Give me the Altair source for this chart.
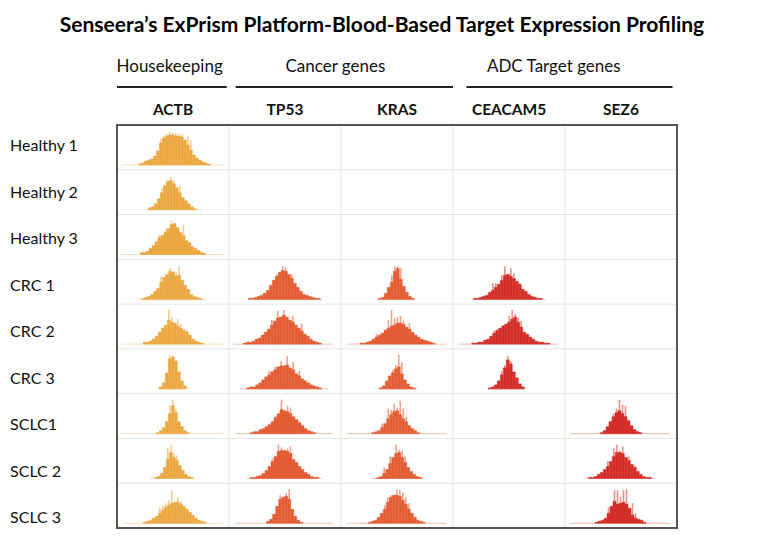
import altair as alt
import pandas as pd

# ---------------- data ----------------
samples = ["Healthy 1", "Healthy 2", "Healthy 3", "CRC 1", "CRC 2", "CRC 3",
           "SCLC1", "SCLC 2", "SCLC 3"]
genes = ["ACTB", "TP53", "KRAS", "CEACAM5", "SEZ6"]
groups = ["Housekeeping", "Cancer genes", "ADC Target genes"]
gene_group = [0, 1, 1, 2, 2]

# histogram counts (3-unit bins) for each (sample, gene); expression axis 0-112 per cell
actb_h1 = [1, 2, 4, 5, 6, 9, 14, 22, 27, 29, 30, 30, 29, 29, 28, 25, 20, 15, 10, 7, 5, 3, 2, 1]
actb_h2 = [2, 3, 6, 11, 17, 24, 28, 29, 26, 22, 17, 12, 9, 6, 3, 1]
actb_h3 = [2, 2, 3, 6, 9, 13, 17, 19, 22, 26, 30, 31, 27, 22, 19, 14, 12, 8, 6, 4, 2, 1]
actb_c1 = [1, 2, 3, 5, 8, 11, 17, 22, 25, 28, 27, 23, 24, 19, 14, 10, 5, 3, 2, 1]
actb_c2 = [2, 2, 3, 5, 8, 12, 16, 19, 24, 22, 21, 18, 16, 14, 12, 9, 5, 3, 2, 1]
actb_c3 = [2, 6, 16, 30, 32, 28, 17, 8, 3]
actb_s1 = [1, 3, 6, 12, 20, 28, 21, 12, 7, 3, 1]
actb_s2 = [1, 2, 5, 11, 19, 26, 21, 18, 13, 8, 4, 2, 1]
actb_s3 = [1, 2, 3, 5, 7, 10, 13, 16, 18, 20, 21, 21, 19, 17, 14, 11, 8, 5, 3, 2, 1]
tp53_c1 = [1, 1, 2, 3, 4, 6, 9, 14, 19, 23, 27, 29, 28, 25, 21, 16, 12, 8, 5, 4, 3, 2, 1, 1]
tp53_c2 = [1, 2, 2, 3, 5, 6, 9, 12, 15, 19, 23, 26, 27, 29, 27, 24, 22, 19, 16, 13, 10, 8, 5, 3, 2, 1]
tp53_c3 = [1, 2, 2, 4, 6, 9, 12, 14, 17, 19, 22, 23, 23, 24, 21, 19, 15, 13, 10, 8, 6, 4, 3, 2, 1]
tp53_s1 = [1, 2, 2, 4, 5, 7, 9, 12, 16, 20, 24, 23, 22, 20, 17, 14, 11, 8, 5, 3, 2, 1]
tp53_s2 = [1, 1, 2, 3, 5, 8, 12, 17, 22, 27, 28, 28, 27, 25, 19, 16, 12, 9, 6, 4, 2, 1, 1]
tp53_s3 = [2, 4, 9, 17, 24, 26, 27, 24, 14, 7, 3, 1]
kras_c1 = [1, 2, 6, 12, 17, 28, 31, 20, 13, 7, 3, 1]
kras_c2 = [1, 1, 2, 3, 5, 7, 9, 11, 14, 16, 18, 19, 21, 21, 20, 17, 15, 12, 9, 7, 5, 4, 3, 2, 1]
kras_c3 = [1, 3, 8, 13, 16, 20, 22, 15, 9, 5, 2, 1]
kras_s1 = [1, 2, 3, 6, 10, 15, 19, 22, 23, 19, 15, 12, 8, 5, 3, 1]
kras_s2 = [1, 2, 5, 9, 15, 21, 25, 26, 21, 16, 11, 7, 4, 2, 1]
kras_s3 = [1, 2, 3, 6, 10, 14, 21, 26, 28, 28, 27, 23, 19, 14, 10, 6, 3, 2, 1]
cea_c1 = [1, 1, 2, 3, 4, 7, 9, 12, 15, 19, 24, 25, 23, 21, 18, 15, 10, 8, 5, 3, 2, 1, 1]
cea_c2 = [1, 1, 2, 2, 4, 5, 8, 11, 14, 16, 18, 20, 22, 25, 27, 22, 17, 12, 10, 7, 5, 3, 2, 2, 1, 1]
cea_c3 = [1, 2, 4, 8, 14, 21, 29, 25, 17, 11, 5, 2]
sez6_s1 = [1, 3, 7, 12, 17, 21, 23, 20, 17, 13, 8, 4, 2, 1]
sez6_s2 = [1, 1, 2, 4, 6, 9, 12, 17, 22, 26, 26, 25, 21, 18, 14, 11, 7, 4, 2, 1, 1]
sez6_s3 = [1, 2, 3, 5, 10, 17, 22, 19, 20, 21, 19, 15, 8, 5, 4, 3, 1]

# sparse single-read spikes: {bin index: count}
spk = {
    ("Healthy 1", "ACTB"): {7: 26, 8: 29, 9: 31, 10: 33, 11: 32, 12: 32, 13: 31, 14: 31, 16: 29, 17: 25},
    ("Healthy 2", "ACTB"): {4: 22, 6: 30, 7: 33, 8: 30, 10: 25},
    ("Healthy 3", "ACTB"): {6: 20, 8: 25, 10: 34, 14: 30},
    ("CRC 1", "ACTB"): {6: 23, 9: 31, 10: 28, 11: 27, 12: 33},
    ("CRC 2", "ACTB"): {8: 34, 9: 27, 11: 25, 12: 20, 14: 14},
    ("CRC 3", "ACTB"): {3: 34, 4: 33},
    ("SCLC1", "ACTB"): {4: 28, 5: 34, 6: 25},
    ("SCLC 2", "ACTB"): {4: 30, 5: 34, 6: 25, 7: 23},
    ("SCLC 3", "ACTB"): {5: 16, 6: 18, 7: 20, 8: 23, 9: 33, 11: 26, 12: 22},
    ("CRC 1", "TP53"): {9: 25, 11: 33, 12: 32, 14: 25},
    ("CRC 2", "TP53"): {9: 24, 11: 33, 13: 34, 16: 28, 19: 20},
    ("CRC 3", "TP53"): {7: 18, 9: 22, 11: 28, 13: 33, 15: 27, 17: 18},
    ("SCLC1", "TP53"): {8: 18, 10: 34, 12: 28, 13: 26},
    ("SCLC 2", "TP53"): {7: 20, 9: 34, 10: 31, 12: 30, 13: 32},
    ("SCLC 3", "TP53"): {4: 28, 6: 30, 7: 34},
    ("CRC 1", "KRAS"): {4: 24, 5: 33, 6: 33, 7: 31},
    ("CRC 2", "KRAS"): {5: 10, 9: 24, 10: 34, 11: 26, 12: 27, 13: 28, 14: 24, 16: 21},
    ("CRC 3", "KRAS"): {4: 19, 5: 24, 6: 34, 7: 27},
    ("SCLC1", "KRAS"): {3: 10, 5: 25, 6: 24, 7: 30, 8: 26, 9: 33, 10: 25, 11: 17},
    ("SCLC 2", "KRAS"): {2: 11, 4: 22, 6: 34, 7: 29, 8: 28, 9: 22},
    ("SCLC 3", "KRAS"): {5: 18, 6: 26, 7: 28, 9: 34, 10: 33, 11: 31, 12: 26, 13: 20},
    ("CRC 1", "CEACAM5"): {6: 16, 7: 16, 9: 24, 10: 33, 12: 31, 13: 26, 15: 16},
    ("CRC 2", "CEACAM5"): {7: 13, 10: 19, 12: 28, 13: 34, 14: 30, 15: 26, 16: 23},
    ("CRC 3", "CEACAM5"): {4: 18, 5: 24, 6: 33, 7: 28},
    ("SCLC1", "SEZ6"): {4: 20, 5: 25, 6: 34, 7: 29, 8: 28},
    ("SCLC 2", "SEZ6"): {6: 17, 8: 30, 9: 34, 10: 28, 11: 32, 13: 22, 15: 13},
    ("SCLC 3", "SEZ6"): {4: 16, 6: 33, 7: 33, 8: 26, 9: 33, 10: 34, 12: 20, 13: 10},
}

# (sample, gene, counts, first-bin expression, range low, range high)
cells = [
    ("Healthy 1", "ACTB", actb_h1, 21.3, 4.7, 106.3),
    ("Healthy 2", "ACTB", actb_h2, 31.3, 26, 86),
    ("Healthy 3", "ACTB", actb_h3, 23, 4.7, 106.3),
    ("CRC 1", "ACTB", actb_c1, 24.7, 19.7, 89.7),
    ("CRC 2", "ACTB", actb_c2, 26.3, 4.7, 106.3),
    ("CRC 3", "ACTB", actb_c3, 42.3, 41, 71),
    ("SCLC1", "ACTB", actb_s1, 39.3, 6, 105),
    ("SCLC 2", "ACTB", actb_s2, 37.3, 33, 76),
    ("SCLC 3", "ACTB", actb_s3, 26.3, 6, 105),
    ("CRC 1", "TP53", tp53_c1, 19.3, 19, 93),
    ("CRC 2", "TP53", tp53_c2, 14.3, 4, 104),
    ("CRC 3", "TP53", tp53_c3, 17.7, 11, 99),
    ("SCLC1", "TP53", tp53_s1, 21, 6, 104),
    ("SCLC 2", "TP53", tp53_s2, 21, 17.7, 92.7),
    ("SCLC 3", "TP53", tp53_s3, 37.7, 6, 104),
    ("CRC 1", "KRAS", kras_c1, 37.3, 36, 74),
    ("CRC 2", "KRAS", kras_c2, 19, 5.7, 105.7),
    ("CRC 3", "KRAS", kras_c3, 38.3, 37, 76),
    ("SCLC1", "KRAS", kras_s1, 30.7, 5.7, 105.7),
    ("SCLC 2", "KRAS", kras_s2, 35.7, 30.7, 82.3),
    ("SCLC 3", "KRAS", kras_s3, 27.3, 5.7, 105.7),
    ("CRC 1", "CEACAM5", cea_c1, 20.3, 20, 92),
    ("CRC 2", "CEACAM5", cea_c2, 18.7, 5.3, 105.3),
    ("CRC 3", "CEACAM5", cea_c3, 35.3, 35, 72),
    ("SCLC1", "SEZ6", sez6_s1, 35, 5, 105),
    ("SCLC 2", "SEZ6", sez6_s2, 23.3, 20, 90),
    ("SCLC 3", "SEZ6", sez6_s3, 30, 5, 105),
]

# ---------------- layout / style ----------------
W, H = 752, 529
CELL_W, CELL_H = 112.0, 44.78          # pixels per column / row
GRID_X0, GRID_Y0 = 109.0, 117.0        # grid origin inside the view
X_DOMAIN = [-GRID_X0 / CELL_W, (W - GRID_X0) / CELL_W]
Y_DOMAIN = [-GRID_Y0 / CELL_H, (H - GRID_Y0) / CELL_H]
EXPR_SPAN = 112.0                      # expression units across a cell
BIN = 3.0
BASE = 0.893                           # baseline inside each row
COUNT_UNIT = 1.0 / CELL_H              # row units per count
LABEL_Y0, LABEL_STEP = 0.47, 1.0385    # row-label placement (row units)

fill_cols = ["#EBA843", "#E35E34", "#D42F28"]
spike_cols = ["#F5CD92", "#F0A38C", "#EC9189"]
tail_cols = ["#F6DDB6", "#F4C0B0", "#F2B5AE"]

FONT = "Lato"

xs = alt.Scale(domain=X_DOMAIN, nice=False, zero=False)
ys = alt.Scale(domain=Y_DOMAIN, nice=False, zero=False, reverse=True)

bars, spikes, tails = [], [], []
for s, g, counts, start, lo, hi in cells:
    r = samples.index(s)
    c = genes.index(g)
    k = gene_group[c]
    for i, h in enumerate(counts):
        e0 = start + i * BIN
        bars.append(dict(col=fill_cols[k], x=c + e0 / EXPR_SPAN, x2=c + (e0 + BIN) / EXPR_SPAN,
                         y=r + BASE - h * COUNT_UNIT, y2=r + BASE))
    for i, h in spk.get((s, g), {}).items():
        e0 = start + i * BIN + 0.7
        spikes.append(dict(col=spike_cols[k], x=c + e0 / EXPR_SPAN, x2=c + (e0 + 1.6) / EXPR_SPAN,
                           y=r + BASE - h * COUNT_UNIT, y2=r + BASE))
    tails.append(dict(col=tail_cols[k], x=c + lo / EXPR_SPAN, x2=c + hi / EXPR_SPAN, y=r + BASE))

bars = pd.DataFrame(bars)
spikes = pd.DataFrame(spikes)
tails = pd.DataFrame(tails)

tail_layer = alt.Chart(tails).mark_rule(strokeWidth=1).encode(
    x=alt.X("x:Q", scale=xs, axis=None), x2="x2:Q",
    y=alt.Y("y:Q", scale=ys, axis=None), color=alt.Color("col:N", scale=None))

spike_layer = alt.Chart(spikes).mark_rect().encode(
    x=alt.X("x:Q", scale=xs, axis=None), x2="x2:Q",
    y=alt.Y("y:Q", scale=ys, axis=None), y2="y2:Q", fill=alt.Fill("col:N", scale=None))

bar_layer = alt.Chart(bars).mark_rect(strokeWidth=0.5).encode(
    x=alt.X("x:Q", scale=xs, axis=None), x2="x2:Q",
    y=alt.Y("y:Q", scale=ys, axis=None), y2="y2:Q",
    fill=alt.Fill("col:N", scale=None), stroke=alt.Stroke("col:N", scale=None))

# grid
vlines = pd.DataFrame({"x": list(range(1, len(genes))), "y": 0, "y2": len(samples)})
hlines = pd.DataFrame({"y": list(range(1, len(samples))), "x": 0, "x2": len(genes)})
grid_v = alt.Chart(vlines).mark_rule(color="#E4E4E4", strokeWidth=1).encode(
    x=alt.X("x:Q", scale=xs, axis=None), y=alt.Y("y:Q", scale=ys, axis=None), y2="y2:Q")
grid_h = alt.Chart(hlines).mark_rule(color="#E4E4E4", strokeWidth=1).encode(
    y=alt.Y("y:Q", scale=ys, axis=None), x=alt.X("x:Q", scale=xs, axis=None), x2="x2:Q")
border = alt.Chart(pd.DataFrame({"x": [0], "x2": [len(genes)], "y": [0], "y2": [len(samples)]})).mark_rect(
    fillOpacity=0, stroke="#555555", strokeWidth=2).encode(
    x=alt.X("x:Q", scale=xs, axis=None), x2="x2:Q",
    y=alt.Y("y:Q", scale=ys, axis=None), y2="y2:Q")

# row labels
row_df = pd.DataFrame({"label": samples,
                       "y": [LABEL_Y0 + LABEL_STEP * i for i in range(len(samples))], "x": -0.955})
row_text = alt.Chart(row_df).mark_text(align="left", baseline="middle", font=FONT, fontSize=16,
                                       color="#111111").encode(
    x=alt.X("x:Q", scale=xs, axis=None), y=alt.Y("y:Q", scale=ys, axis=None), text="label:N")

# column headers
col_df = pd.DataFrame({"label": genes, "x": [i + 0.5 for i in range(len(genes))], "y": -0.33})
col_text = alt.Chart(col_df).mark_text(align="center", baseline="middle", font=FONT, fontSize=15.5,
                                       fontWeight="bold", color="#111111").encode(
    x=alt.X("x:Q", scale=xs, axis=None), y=alt.Y("y:Q", scale=ys, axis=None), text="label:N")

# group headers
grp_x0 = [0.0, 1.06, 3.12]
grp_x1 = [0.98, 3.0, 4.96]
grp_xc = [0.47, 1.95, 3.9]
grp_df = pd.DataFrame({"label": groups, "x": grp_x0, "x2": grp_x1, "xc": grp_xc,
                       "y": -0.85, "yt": -1.3})
grp_rule = alt.Chart(grp_df).mark_rule(color="#222222", strokeWidth=2).encode(
    x=alt.X("x:Q", scale=xs, axis=None), x2="x2:Q", y=alt.Y("y:Q", scale=ys, axis=None))
grp_text = alt.Chart(grp_df).mark_text(align="center", baseline="middle", font=FONT, fontSize=17,
                                       color="#111111").encode(
    x=alt.X("xc:Q", scale=xs, axis=None), y=alt.Y("yt:Q", scale=ys, axis=None), text="label:N")

title = alt.Chart(pd.DataFrame({"t": ["Senseera\u2019s ExPrism Platform-Blood-Based Target Expression Profiling"]})).mark_text(
    align="center", baseline="middle", font=FONT, fontSize=21, fontWeight="bold", color="#000000").encode(
    x=alt.value(374), y=alt.value(18), text="t:N")

chart = alt.layer(
    grid_v, grid_h, tail_layer, spike_layer, bar_layer, border,
    row_text, col_text, grp_rule, grp_text, title
).properties(
    width=W, height=H, padding=0, background="white",
    autosize=alt.AutoSizeParams(type="none")
).configure_view(strokeWidth=0)

chart.save("out.html", embed_options={"renderer": "svg", "actions": False})
